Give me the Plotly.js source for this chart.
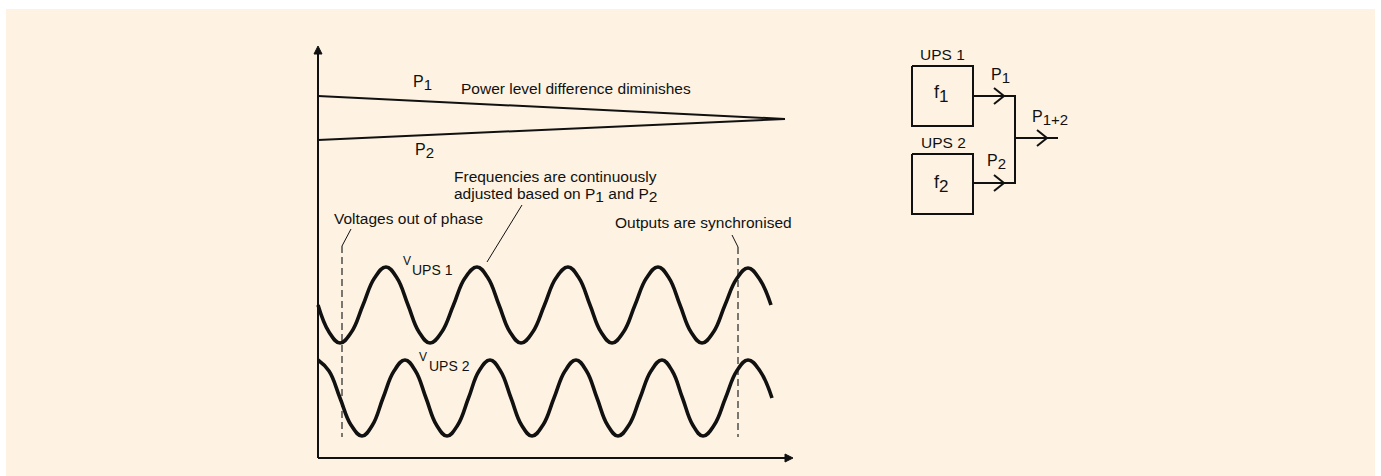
<!DOCTYPE html>
<html>
<head>
<meta charset="utf-8">
<script src="https://cdn.plot.ly/plotly-3.0.1.min.js"></script>
<style>html,body{margin:0;padding:0;background:#fff;}#chart{width:1381px;height:476px;}</style>
</head>
<body>
<div id="chart"></div>
<script>
// ---- data (diagram units = picture units) ----
const P1_X = [318, 785];
const P1_Y = [96, 119];
const P2_X = [318, 785];
const P2_Y = [140, 119];

const V1_X = [318, 329, 340, 351.5, 363, 374.5, 386, 397, 408, 419, 430, 441.75, 453.5, 465, 477, 488, 499, 510, 521,
              532.75, 544.5, 556, 568, 579, 590, 601, 612, 623.5, 635, 646.5, 658, 669, 680, 691, 702, 713.5, 725,
              736.5, 748, 759.5, 771];
const V1_Y = [305, 332, 343, 332, 305, 278, 267, 278, 305, 332, 343, 332, 305, 278, 267, 278, 305, 332, 343,
              332, 305, 278, 267, 278, 305, 332, 343, 332, 305, 278, 267, 278, 305, 332, 343, 332, 305,
              279, 268, 279, 305];

const V2_X = [318, 329, 340, 351, 362, 372.5, 383, 394, 405, 415.5, 426, 436.5, 447, 457.75, 468.5, 479, 490,
              500.5, 511, 521.5, 532, 543, 554, 565, 576, 586.5, 597, 607.5, 618, 629, 640, 651, 662, 672.25,
              682.5, 692.75, 703, 714.25, 725.5, 736.75, 748, 760, 772];
const V2_Y = [360, 371, 398, 425, 436, 425, 398, 371, 360, 371, 398, 425, 436, 425, 398, 371, 360,
              371, 398, 425, 436, 425, 398, 371, 360, 371, 398, 425, 436, 425, 398, 371, 360, 371,
              398, 425, 436, 425, 398, 371, 360, 371, 398];

const DASH1_X = [342, 342]; const DASH1_Y = [246, 437];
const DASH2_X = [738, 738]; const DASH2_Y = [247, 437];

const LEAD1_X = [351, 342]; const LEAD1_Y = [229, 246];
const LEAD2_X = [522, 487]; const LEAD2_Y = [205, 262];
const LEAD3_X = [732, 738]; const LEAD3_Y = [235, 247];

const YAXIS_X = [318, 318]; const YAXIS_Y = [54, 458];
const XAXIS_X = [318, 786]; const XAXIS_Y = [458, 458];
const YHEAD_X = [314, 318, 322, 314]; const YHEAD_Y = [54, 46, 54, 54];
const XHEAD_X = [785, 793, 785, 785]; const XHEAD_Y = [454, 458, 462, 454];

const BOX1_X = [912, 973, 973, 912, 912]; const BOX1_Y = [66, 66, 126, 126, 66];
const BOX2_X = [912, 973, 973, 912, 912]; const BOX2_Y = [154, 154, 214, 214, 154];
const WIRE1_X = [973, 1015, 1015, 973]; const WIRE1_Y = [96, 96, 183, 183];
const WIRE2_X = [1015, 1058]; const WIRE2_Y = [138, 138];
const CHEV1_X = [994, 1004, 994]; const CHEV1_Y = [88, 96, 104];
const CHEV2_X = [994, 1004, 994]; const CHEV2_Y = [175, 183, 191];
const CHEV3_X = [1037, 1047, 1037]; const CHEV3_Y = [130, 138, 146];

const TXT_POWER = 'Power level difference diminishes';
const TXT_FREQ1 = 'Frequencies are continuously';
const TXT_FREQ2_A = 'adjusted based on P';
const TXT_PHASE = 'Voltages out of phase';
const TXT_SYNC = 'Outputs are synchronised';

// ---- drawing ----
const INK = '#111111';
const FONT = 'Liberation Sans, Arial, Helvetica, sans-serif';

function ln(x, y, w, extra) {
  return {x: x, y: y, mode: 'lines', hoverinfo: 'skip', showlegend: false,
    line: Object.assign({color: INK, width: w}, extra || {})};
}
function fillTri(x, y) {
  return {x: x, y: y, mode: 'lines', fill: 'toself', fillcolor: INK, hoverinfo: 'skip', showlegend: false,
    line: {color: INK, width: 1}};
}

const traces = [
  ln(YAXIS_X, YAXIS_Y, 2), ln(XAXIS_X, XAXIS_Y, 2),
  fillTri(YHEAD_X, YHEAD_Y), fillTri(XHEAD_X, XHEAD_Y),
  ln(P1_X, P1_Y, 2), ln(P2_X, P2_Y, 2),
  ln(DASH1_X, DASH1_Y, 1.3, {dash: '7px,4px', color: '#333'}),
  ln(DASH2_X, DASH2_Y, 1.3, {dash: '7px,4px', color: '#333'}),
  ln(LEAD1_X, LEAD1_Y, 1), ln(LEAD2_X, LEAD2_Y, 1), ln(LEAD3_X, LEAD3_Y, 1),
  ln(V1_X, V1_Y, 3.6, {shape: 'spline', smoothing: 1.2}),
  ln(V2_X, V2_Y, 3.6, {shape: 'spline', smoothing: 1.2}),
  ln(BOX1_X, BOX1_Y, 2), ln(BOX2_X, BOX2_Y, 2),
  ln(WIRE1_X, WIRE1_Y, 2), ln(WIRE2_X, WIRE2_Y, 2),
  ln(CHEV1_X, CHEV1_Y, 2), ln(CHEV2_X, CHEV2_Y, 2), ln(CHEV3_X, CHEV3_Y, 2)
];

function ann(text, x, y, size, xanchor) {
  return {text: text, x: x, y: y, xref: 'x', yref: 'y', showarrow: false,
    xanchor: xanchor || 'left', yanchor: 'middle',
    font: {family: FONT, size: size, color: INK}};
}
const SUB = (s, sz) => '<sub><span style="font-size:' + (sz || 15) + 'px">' + s + '</span></sub>';

const annotations = [
  ann('P' + SUB('1'), 411, 83, 16),
  ann(TXT_POWER, 459, 88, 15.5),
  ann('P' + SUB('2'), 413, 151, 16),
  ann(TXT_FREQ1, 452, 176, 15.5),
  ann(TXT_FREQ2_A + SUB('1', 15.5) + ' and P' + SUB('2', 15.5), 452, 195, 15.5),
  ann(TXT_PHASE, 332, 218, 15.5),
  ann(TXT_SYNC, 613, 222, 15.5),
  ann('V', 401, 261, 12),
  ann('UPS 1', 410, 270, 14),
  ann('V', 417, 357, 12),
  ann('UPS 2', 427, 366, 14),
  ann('UPS 1', 942, 54, 15.5, 'center'),
  ann('UPS 2', 943, 142, 15.5, 'center'),
  ann('f' + SUB('1', 17), 941, 94, 18, 'center'),
  ann('f' + SUB('2', 17), 941, 184, 18, 'center'),
  ann('P' + SUB('1'), 989, 76, 16),
  ann('P' + SUB('2'), 985, 162, 16),
  ann('P' + SUB('1+2'), 1030, 118, 16)
];

const layout = {
  width: 1381, height: 476,
  margin: {l: 0, r: 0, t: 0, b: 0},
  paper_bgcolor: '#ffffff', plot_bgcolor: 'rgba(0,0,0,0)',
  xaxis: {range: [0, 1381], visible: false, fixedrange: true},
  yaxis: {range: [476, 0], visible: false, fixedrange: true},
  shapes: [{type: 'rect', xref: 'x', yref: 'y', x0: 6, x1: 1375, y0: 9, y1: 476,
    fillcolor: '#fef3e2', line: {width: 0}, layer: 'below'}],
  annotations: annotations,
  showlegend: false
};

Plotly.newPlot('chart', traces, layout, {staticPlot: true, displayModeBar: false});
</script>
</body>
</html>
